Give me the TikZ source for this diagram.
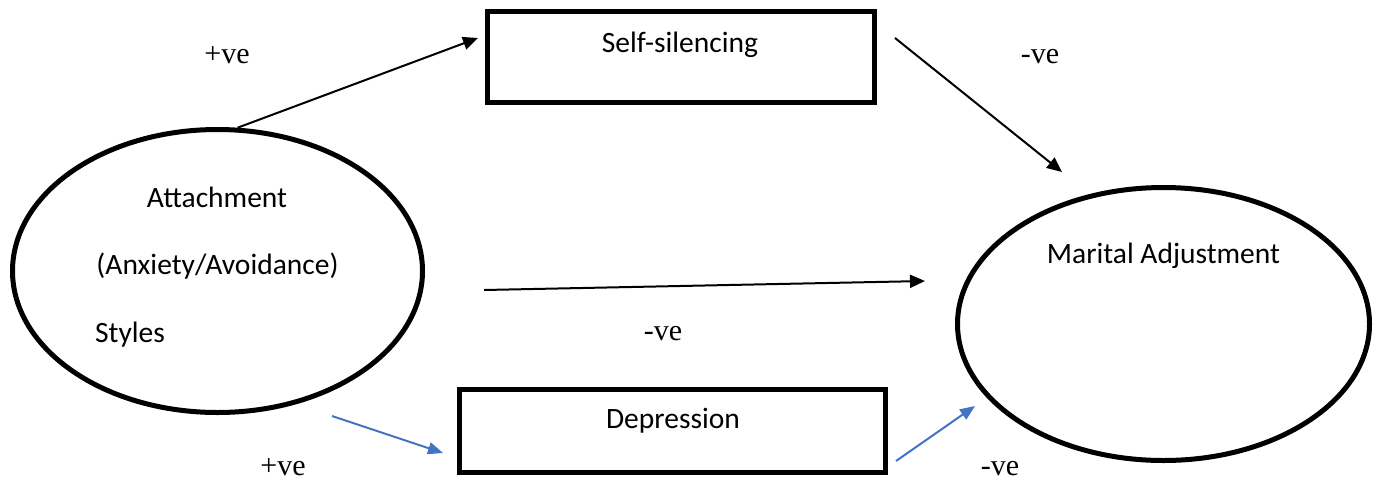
\documentclass[tikz,border=0pt]{standalone}
\usepackage{fontspec}
\newfontfamily\calib{Carlito}
\newfontfamily\tnr{Liberation Serif}
\usetikzlibrary{arrows.meta,shapes.geometric}
\definecolor{wordblue}{RGB}{68,114,196}

\tikzset{
	blk/.style={draw,line width=5pt,inner sep=0pt},
	oval/.style={blk,ellipse},
	box/.style={blk,rectangle},
	txt/.style={font=\calib\fontsize{29.5}{34}\selectfont,inner sep=0pt,anchor=base},
	sgn/.style={font=\tnr\fontsize{30}{36}\selectfont,inner sep=0pt,anchor=base},
	arr/.style={line width=2pt,-{Triangle[length=15pt,width=13pt]}},
	barr/.style={line width=2pt,color=wordblue,-{Triangle[length=15pt,width=12pt]}}
}

\begin{document}
\begin{tikzpicture}[x=1pt,y=-1pt]
			%%%%% START %%%%%
			\useasboundingbox (0,0) rectangle (1376,483);
			
			\node[oval,minimum width=410pt,minimum height=283pt] (att) at (217.5,271) {};
			\node[txt] (attA) at (217,207) {Attachment};
			\node[txt] (attB) at (217.5,274) {(Anxiety/Avoidance)};
			\node[txt,anchor=base west] (attC) at (95,342) {Styles};
			
			\node[box,minimum width=387pt,minimum height=91pt] (selfsil) at (681,57) {};
			\node[txt] (selfsilT) at (680,52) {Self-silencing};
			
			\node[box,minimum width=426pt,minimum height=83pt] (depr) at (672.5,431) {};
			\node[txt] (deprT) at (673,428) {Depression};
			
			\node[oval,minimum width=412pt,minimum height=273pt] (marital) at (1163.5,324) {};
			\node[txt] (maritalT) at (1163.5,263) {Marital Adjustment};
			
			% free ends of the paths
			\coordinate (sTip) at (478,38);
			\coordinate (mFrom) at (895,38);
			\coordinate (mTip) at (1062,172);
			\coordinate (dirFrom) at (484,290);
			\coordinate (dirTip) at (925,281);
			\coordinate (dFrom) at (332,416);
			\coordinate (dTip) at (443,453);
			\coordinate (bFrom) at (896,461);
			\coordinate (bTip) at (975,406);
			
			\draw[arr] (att.82) -- (sTip);
			\draw[arr] (mFrom) -- (mTip);
			\draw[arr] (dirFrom) -- (dirTip);
			\draw[barr] (dFrom) -- (dTip);
			\draw[barr] (bFrom) -- (bTip);
			
			\node[sgn] (pos1) at (227,63) {+ve};
			\node[sgn] (neg1) at (1040,63) {-ve};
			\node[sgn] (neg2) at (663,340) {-ve};
			\node[sgn] (pos2) at (283,475) {+ve};
			\node[sgn] (neg3) at (1000,475) {-ve};
			
			%%%%% END %%%%%
\end{tikzpicture}
\end{document}
